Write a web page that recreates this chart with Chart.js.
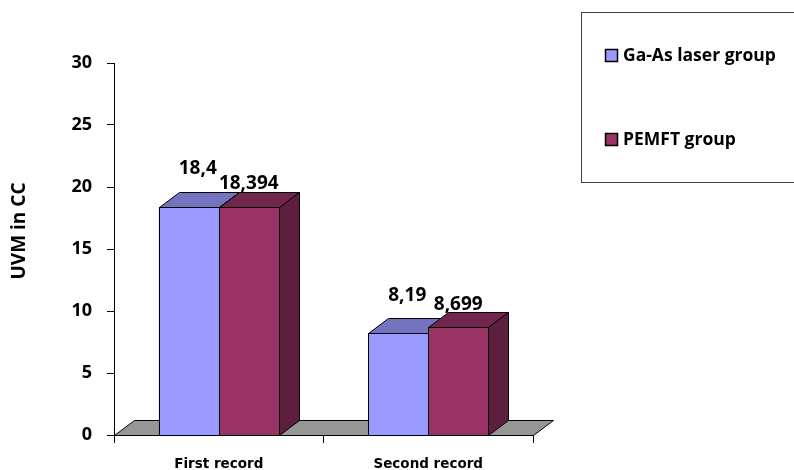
<!DOCTYPE html>
<html>
<head>
<meta charset="utf-8">
<script src="https://cdn.jsdelivr.net/npm/chart.js@4/dist/chart.umd.min.js"></script>
<style>
  html, body { margin: 0; padding: 0; background: #ffffff; }
  #wrap { width: 794px; height: 470px; position: relative; }
</style>
</head>
<body>
<div id="wrap"><canvas id="c" width="794" height="470"></canvas></div>
<script>
// ---- data ----
const categories = ['First record', 'Second record'];
const seriesNames = ['Ga-As laser group', 'PEMFT group'];
const laserValues = [18.4, 8.19];
const pemftValues = [18.394, 8.699];
const yTickValues = [0, 5, 10, 15, 20, 25, 30];
const yAxisTitle = 'UVM in CC';

// ---- styles ----
const faceColors = [
  { front: '#9999FF', top: '#7373C0', side: '#5C5C99' },
  { front: '#993366', top: '#73264D', side: '#5C1F3D' }
];
const depthX = 20, depthY = -15;
const labelOffsets = [ { dx: 9, dy: -38 }, { dx: 0, dy: -23 } ];

function fmt(v) { return String(v).replace('.', ','); }

function poly(ctx, pts, fill) {
  ctx.beginPath();
  ctx.moveTo(pts[0][0], pts[0][1]);
  for (let k = 1; k < pts.length; k++) ctx.lineTo(pts[k][0], pts[k][1]);
  ctx.closePath();
  ctx.fillStyle = fill;
  ctx.fill();
  ctx.lineWidth = 1;
  ctx.strokeStyle = '#000000';
  ctx.stroke();
}

const threeD = {
  id: 'threeD',
  beforeDatasetsDraw(chart) {
    const ctx = chart.ctx;
    const { left, right, bottom } = chart.chartArea;
    const l = Math.round(left) + 0.5, r = Math.round(right) + 0.5, b = Math.round(bottom) + 0.5;
    ctx.save();
    poly(ctx, [[l, b], [r, b], [r + depthX, b + depthY], [l + depthX, b + depthY]], '#969696');
    ctx.restore();
  },
  afterDatasetsDraw(chart) {
    const ctx = chart.ctx;
    ctx.save();
    const n = chart.data.labels.length;
    for (let i = 0; i < n; i++) {
      chart.data.datasets.forEach((ds, d) => {
        const el = chart.getDatasetMeta(d).data[i];
        const p = el.getProps(['x', 'y', 'base', 'width'], true);
        const x1 = Math.round(p.x - p.width / 2) + 0.5;
        const x2 = Math.round(p.x + p.width / 2) + 0.5;
        const yt = Math.round(p.y) + 0.5;
        const yb = Math.round(p.base) + 0.5;
        const c = faceColors[d];
        poly(ctx, [[x1, yt], [x2, yt], [x2, yb], [x1, yb]], c.front);
        poly(ctx, [[x1, yt], [x2, yt], [x2 + depthX, yt + depthY], [x1 + depthX, yt + depthY]], c.top);
        poly(ctx, [[x2, yt], [x2 + depthX, yt + depthY], [x2 + depthX, yb + depthY], [x2, yb]], c.side);
      });
    }
    // data labels
    ctx.fillStyle = '#000000';
    ctx.font = 'bold 19px "Open Sans"';
    ctx.textAlign = 'center';
    ctx.textBaseline = 'middle';
    for (let i = 0; i < n; i++) {
      chart.data.datasets.forEach((ds, d) => {
        const el = chart.getDatasetMeta(d).data[i];
        const o = labelOffsets[d];
        ctx.fillText(fmt(ds.data[i]), el.x + o.dx, el.y + o.dy);
      });
    }
    ctx.restore();
  },
  afterDraw(chart) {
    const ctx = chart.ctx;
    ctx.save();
    // y-axis title
    ctx.translate(20, 231);
    ctx.rotate(-Math.PI / 2);
    ctx.font = 'bold 19px "Open Sans"';
    ctx.fillStyle = '#000000';
    ctx.textAlign = 'center';
    ctx.textBaseline = 'middle';
    ctx.fillText(yAxisTitle, 0, 0);
    ctx.restore();

    // legend box
    ctx.save();
    ctx.strokeStyle = '#404040';
    ctx.lineWidth = 1;
    ctx.fillStyle = '#ffffff';
    ctx.fillRect(581.5, 12.5, 260, 170);
    ctx.strokeRect(581.5, 12.5, 260, 170);
    const rows = [56, 140];
    chart.data.datasets.forEach((ds, d) => {
      const cy = rows[d];
      ctx.fillStyle = ds.backgroundColor;
      ctx.fillRect(605.5, cy - 6.5, 12, 12);
      ctx.lineWidth = 1.5;
      ctx.strokeStyle = '#000000';
      ctx.strokeRect(605.5, cy - 6.5, 12, 12);
      ctx.fillStyle = '#000000';
      ctx.font = 'bold 17.5px "Open Sans"';
      ctx.textAlign = 'left';
      ctx.textBaseline = 'middle';
      ctx.fillText(ds.label, 623, cy);
    });
    ctx.restore();
  }
};

new Chart(document.getElementById('c'), {
  type: 'bar',
  data: {
    labels: categories,
    datasets: [
      { label: seriesNames[0], data: laserValues, backgroundColor: faceColors[0].front, borderColor: '#000', borderWidth: 1 },
      { label: seriesNames[1], data: pemftValues, backgroundColor: faceColors[1].front, borderColor: '#000', borderWidth: 1 }
    ]
  },
  options: {
    responsive: false,
    animation: false,
    devicePixelRatio: 1,
    layout: { padding: { left: 0, top: 63, right: 261, bottom: 0 } },
    plugins: { legend: { display: false }, tooltip: { enabled: false } },
    datasets: { bar: { barPercentage: 1, categoryPercentage: 0.573 } },
    scales: {
      x: {
        grid: { display: true, offset: true, drawOnChartArea: false, drawTicks: true, tickLength: 8, color: '#000000' },
        border: { display: true, color: '#000000', width: 1 },
        ticks: { color: '#000000', padding: 13, font: { family: 'DejaVu Sans', weight: 'bold', size: 13.5 } },
        afterFit(scale) { scale.height = 35; }
      },
      y: {
        min: 0, max: 30,
        afterBuildTicks(scale) { scale.ticks = yTickValues.map(v => ({ value: v })); },
        grid: { display: true, drawOnChartArea: false, drawTicks: true, tickLength: 7, color: '#000000' },
        border: { display: true, color: '#000000', width: 1 },
        ticks: { color: '#000000', padding: 15, font: { family: 'Open Sans', weight: 'bold', size: 18 } },
        afterFit(scale) { scale.width = 114; }
      }
    }
  },
  plugins: [threeD]
});
</script>
</body>
</html>
